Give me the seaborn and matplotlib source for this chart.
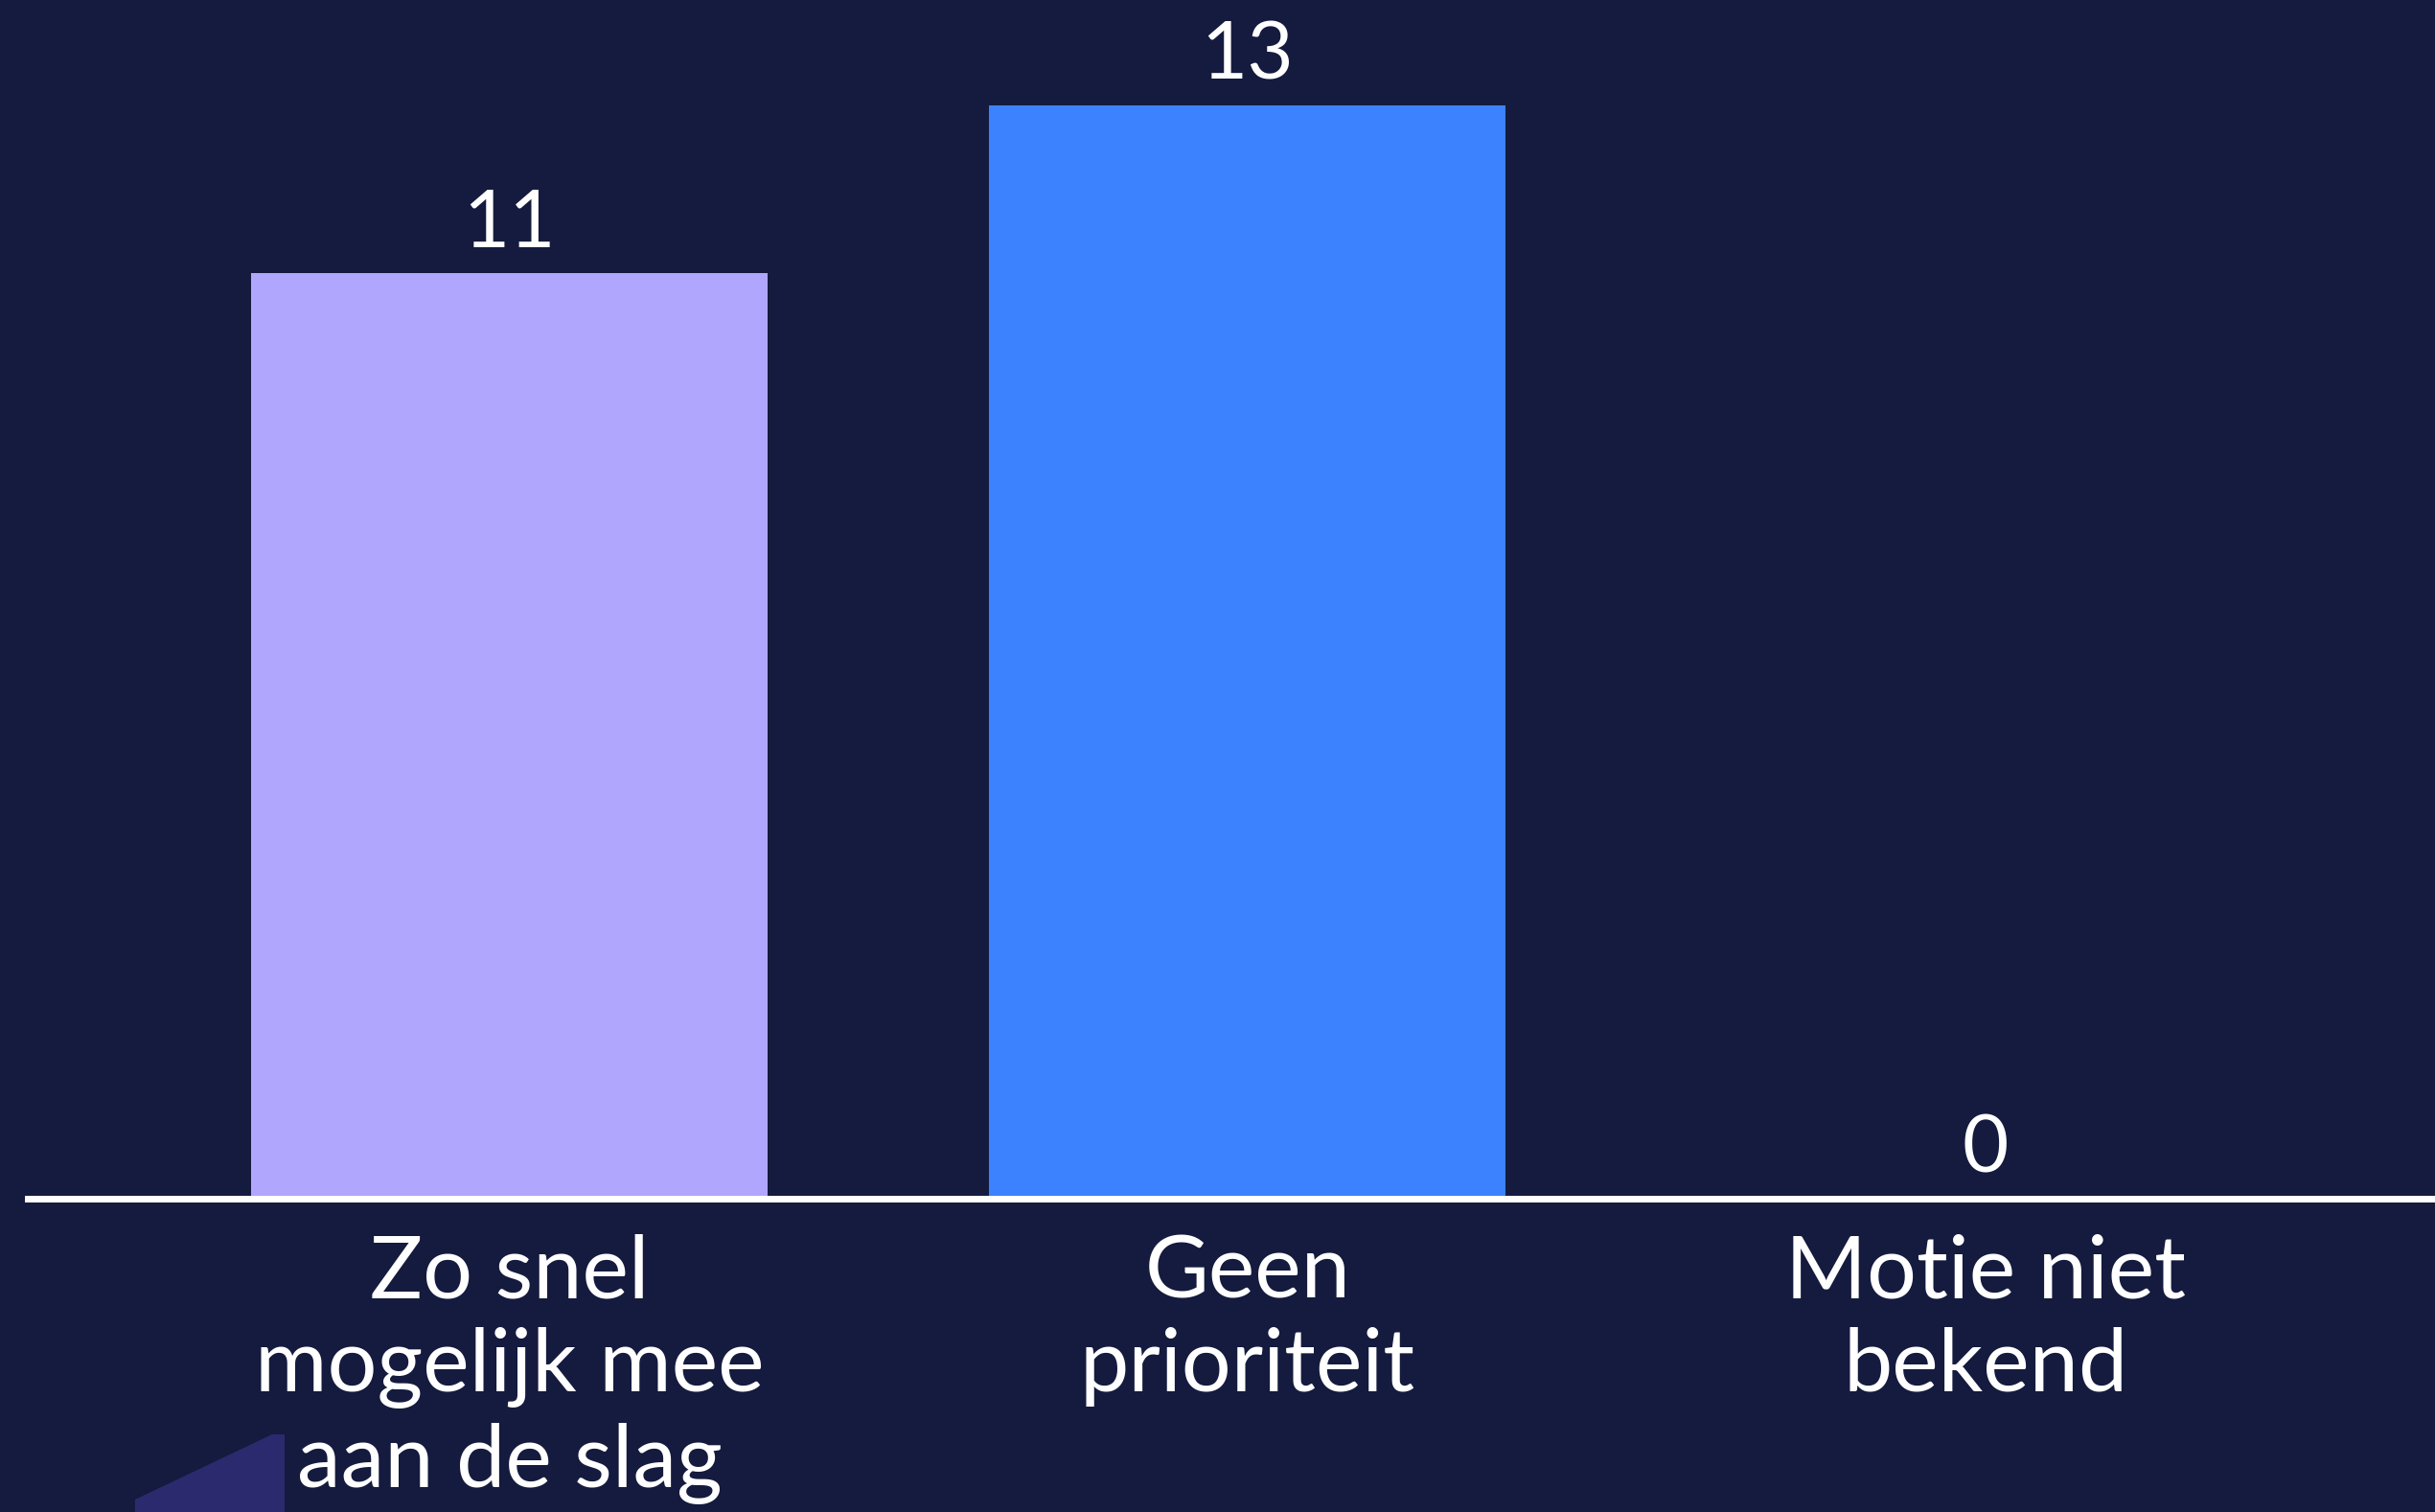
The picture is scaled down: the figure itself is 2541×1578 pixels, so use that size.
import matplotlib
matplotlib.use('Agg')
import matplotlib.pyplot as plt
import seaborn as sns
import pandas as pd
from matplotlib.patches import Polygon

categories = ['Zo snel\nmogelijk mee\naan de slag', 'Geen\nprioriteit', 'Motie niet\nbekend']
values = [11, 13, 0]
bar_colors = ['#B1A6FD', '#3C82FF', '#3C82FF']

BG = '#141B3E'

sns.set_theme(style='white')
plt.rcParams['font.family'] = ['Lato', 'DejaVu Sans']

df = pd.DataFrame({'Antwoord': categories, 'Aantal': values})

fig = plt.figure(figsize=(25.41, 15.78), dpi=100, facecolor=BG)

# decorative shape bottom left
W, H = 2541, 1578
pts = [(141, 1578), (141, 1565), (284, 1497), (297, 1497), (297, 1578)]
fig.patches.append(Polygon([(x / W, 1 - y / H) for x, y in pts], closed=True,
                           transform=fig.transFigure, facecolor='#2C2A6E',
                           edgecolor='none', zorder=0))

ax = fig.add_axes([29 / W, (H - 1251) / H, 1 - 29 / W, 1251 / H])
ax.set_facecolor('none')

sns.barplot(data=df, x='Antwoord', y='Aantal', hue='Antwoord',
            palette=bar_colors, legend=False, width=0.70, saturation=1,
            linewidth=0, edgecolor='none', ax=ax)

for c in ax.containers:
    ax.bar_label(c, fmt='%d', padding=9, color='white', fontsize=60)

ax.set_xlim(-0.653, 2.609)
ax.set_ylim(0, 14.25)
ax.set_xlabel('')
ax.set_ylabel('')
ax.set_yticks([])
ax.tick_params(axis='x', length=0, pad=26, labelsize=66, labelcolor='white')
for lbl in ax.get_xticklabels():
    lbl.set_linespacing(1.22)

for s in ['top', 'left', 'right']:
    ax.spines[s].set_visible(False)
ax.spines['bottom'].set_color('white')
ax.spines['bottom'].set_linewidth(5)
ax.spines['bottom'].set_zorder(5)

plt.savefig('out.png', dpi=100, facecolor=BG)
